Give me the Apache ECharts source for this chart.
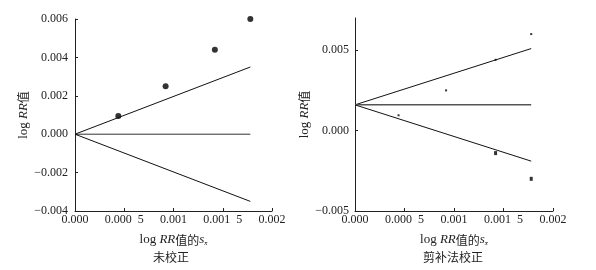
<!DOCTYPE html>
<html>
<head>
<meta charset="utf-8">
<script src="https://cdn.jsdelivr.net/npm/echarts@6/dist/echarts.min.js"></script>
<style>
  html, body { margin: 0; padding: 0; background: #fff; }
  #chart { width: 596px; height: 270px; }
</style>
</head>
<body>
<div id="chart"></div>
<script>
// values
var seObs = [0.00044, 0.00092, 0.00142, 0.00178];     // log RR 的 s
var lrrObs = [0.00095, 0.0025, 0.0044, 0.006];        // log RR
var seFill = [0.00142, 0.00178];                       // 剪补法补上的点
var lrrFill = [-0.0014, -0.003];

// funnel lines: [start, end] at se = 0 and se = seMax
var seMax = 0.00178;
var rawCenter = [0, 0];
var rawUpper = [0, 0.0035];
var rawLower = [0, -0.0035];
var adjCenter = [0.0016, 0.0016];
var adjUpper = [0.0016, 0.0051];
var adjLower = [0.0016, -0.0019];

var xTickLabels = ["0.000", "0.000\u20025", "0.001", "0.001\u20025", "0.002"];
var yTickLabelsL = ["\u22120.004", "\u22120.002", "0.000", "0.002", "0.004", "0.006"];
var yTickLabelsR = ["\u22120.005", "0.000", "0.005"];
var captions = ["未校正", "剪补法校正"];

var serif = 'Liberation Serif, "Noto Sans CJK SC"';

function pairs(xs, ys) {
  return xs.map(function (x, i) { return [x, ys[i]]; });
}
function seg(v) {
  return [[0, v[0]], [seMax, v[1]]];
}

var xNameRich = {
  n: { fontFamily: serif, fontSize: 13, color: "#222" },
  i: { fontFamily: serif, fontSize: 13, fontStyle: "italic", color: "#222" },
  c: { fontFamily: "Noto Sans CJK SC", fontSize: 12, color: "#222" },
  sub: { fontFamily: serif, fontSize: 7, fontStyle: "italic", color: "#222", verticalAlign: "bottom", padding: [7, 0, 0, 0] }
};
var yNameRich = {
  n: { fontFamily: serif, fontSize: 13, color: "#222" },
  i: { fontFamily: serif, fontSize: 13, fontStyle: "italic", color: "#222" },
  c: { fontFamily: "Noto Sans CJK SC", fontSize: 12, color: "#222" }
};

function xAxis(gi) {
  return {
    gridIndex: gi,
    type: "value",
    min: 0, max: 0.002, interval: 0.0005,
    name: "{n|log }{i|RR}{c|值的}{i|s}{sub|x\u0304}",
    nameLocation: "middle",
    nameGap: 22,
    nameTextStyle: { rich: xNameRich },
    axisLine: { onZero: false, lineStyle: { color: "#222", width: 1 } },
    axisTick: { inside: true, length: 3, lineStyle: { color: "#222" } },
    axisLabel: {
      margin: 3, fontFamily: serif, fontSize: 12, color: "#222",
      formatter: function (v) { return xTickLabels[Math.round(v / 0.0005)]; }
    },
    splitLine: { show: false }
  };
}

var lineBase = { type: "line", showSymbol: false, symbol: "none", silent: true, animation: false };

var option = {
  backgroundColor: "#fff",
  animation: false,
  grid: [
    { left: 75, right: 324, top: 19, bottom: 59 },
    { left: 355, right: 43, top: 18, bottom: 59 }
  ],
  xAxis: [xAxis(0), xAxis(1)],
  yAxis: [
    {
      gridIndex: 0, type: "value",
      min: -0.004, max: 0.006, interval: 0.002,
      name: "{n|log }{i|RR}{c|值}",
      nameLocation: "middle", nameGap: 43,
      nameTextStyle: { rich: yNameRich },
      axisLine: { lineStyle: { color: "#222", width: 1 } },
      axisTick: { inside: true, length: 3, lineStyle: { color: "#222" } },
      axisLabel: {
        margin: 7, fontFamily: serif, fontSize: 12, color: "#222",
        formatter: function (v) { return yTickLabelsL[Math.round((v + 0.004) / 0.002)]; }
      },
      splitLine: { show: false }
    },
    {
      gridIndex: 1, type: "value",
      min: -0.005, max: 0.007, interval: 0.005,
      name: "{n|log }{i|RR}{c|值}",
      nameLocation: "middle", nameGap: 40,
      nameTextStyle: { rich: yNameRich },
      axisLine: { lineStyle: { color: "#222", width: 1 } },
      axisTick: { inside: true, length: 3, lineStyle: { color: "#222" }, customValues: [-0.005, 0, 0.005] },
      axisLabel: {
        margin: 6, fontFamily: serif, fontSize: 12, color: "#222",
        customValues: [-0.005, 0, 0.005],
        formatter: function (v) { return yTickLabelsR[Math.round((v + 0.005) / 0.005)]; }
      },
      splitLine: { show: false }
    }
  ],
  graphic: [
    { type: "text", left: 153, top: 251, style: { text: captions[0], font: '12px "Noto Sans CJK SC"', fill: "#222" } },
    { type: "text", left: 423, top: 251, style: { text: captions[1], font: '12px "Noto Sans CJK SC"', fill: "#222" } }
  ],
  series: [
    Object.assign({}, lineBase, { xAxisIndex: 0, yAxisIndex: 0, data: seg(rawUpper), lineStyle: { color: "#111", width: 1 } }),
    Object.assign({}, lineBase, { xAxisIndex: 0, yAxisIndex: 0, data: seg(rawCenter), lineStyle: { color: "#333", width: 1 } }),
    Object.assign({}, lineBase, { xAxisIndex: 0, yAxisIndex: 0, data: seg(rawLower), lineStyle: { color: "#111", width: 1 } }),
    {
      type: "scatter", xAxisIndex: 0, yAxisIndex: 0,
      symbol: "circle", symbolSize: 6,
      itemStyle: { color: "#000" },
      data: pairs(seObs, lrrObs)
    },
    Object.assign({}, lineBase, { xAxisIndex: 1, yAxisIndex: 1, data: seg(adjUpper), lineStyle: { color: "#111", width: 1 } }),
    Object.assign({}, lineBase, { xAxisIndex: 1, yAxisIndex: 1, data: seg(adjCenter), lineStyle: { color: "#555", width: 1.5 } }),
    Object.assign({}, lineBase, { xAxisIndex: 1, yAxisIndex: 1, data: seg(adjLower), lineStyle: { color: "#111", width: 1 } }),
    {
      type: "scatter", xAxisIndex: 1, yAxisIndex: 1,
      symbol: "rect", symbolSize: 2,
      itemStyle: { color: "#000" },
      data: pairs(seObs, lrrObs)
    },
    {
      type: "scatter", xAxisIndex: 1, yAxisIndex: 1,
      symbol: "rect", symbolSize: [3, 4],
      itemStyle: { color: "#000" },
      data: pairs(seFill, lrrFill)
    }
  ]
};

var chart = echarts.init(document.getElementById("chart"));
chart.setOption(option);
</script>
</body>
</html>
